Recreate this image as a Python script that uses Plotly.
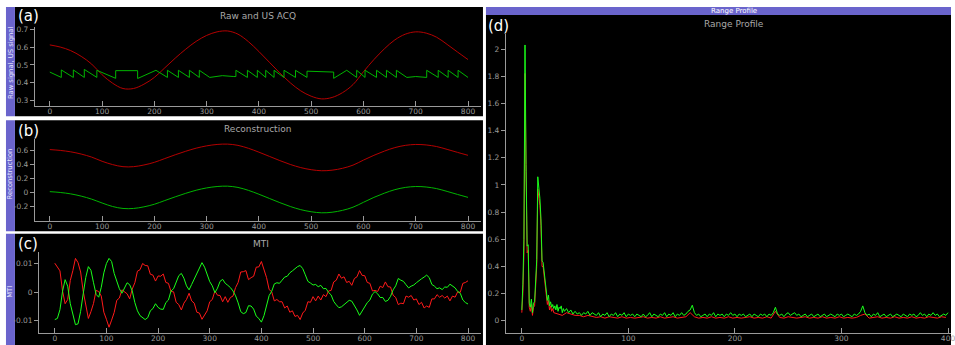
import plotly.graph_objects as go

# ---------------- DATA ----------------
# Panel (a)/(b): raw / reconstruction red signal (x every 20)
wave_x = list(range(0, 801, 20))
raw_red = [0.612, 0.600, 0.580, 0.548, 0.505, 0.445, 0.398, 0.368, 0.368, 0.392,
           0.430, 0.484, 0.538, 0.588, 0.632, 0.665, 0.685, 0.690, 0.672, 0.630,
           0.575, 0.515, 0.455, 0.400, 0.355, 0.325, 0.310, 0.318, 0.345, 0.390,
           0.462, 0.530, 0.590, 0.640, 0.672, 0.685, 0.678, 0.655, 0.615, 0.572,
           0.530]
recon_green = [0.012, 0.000, -0.020, -0.052, -0.095, -0.150, -0.200, -0.228, -0.228, -0.205,
               -0.168, -0.115, -0.062, -0.012, 0.032, 0.065, 0.085, 0.090, 0.072, 0.030,
               -0.025, -0.085, -0.145, -0.200, -0.245, -0.275, -0.290, -0.282, -0.255, -0.210,
               -0.140, -0.070, -0.010, 0.040, 0.072, 0.085, 0.078, 0.055, 0.015, -0.028,
               -0.070]

# Panel (a): US (undersampled) green sawtooth
us_x = [0, 22, 22, 45, 45, 66, 66, 90, 90, 126, 126, 168, 168, 203,
        225, 225, 246, 246, 267, 267, 286, 286, 306, 330, 352, 356, 356,
        378, 378, 397, 397, 413, 413, 429, 429, 448, 448, 470, 470, 492, 492,
        543, 543, 568, 587, 587, 603, 603, 625, 625, 644, 644, 663, 663, 683,
        700, 721, 721, 743, 743, 762, 762, 781, 781, 800]
us_y = [0.460, 0.430, 0.472, 0.430, 0.472, 0.430, 0.475, 0.430, 0.470, 0.425, 0.468, 0.468, 0.424, 0.470,
        0.430, 0.470, 0.430, 0.470, 0.430, 0.470, 0.430, 0.470, 0.430, 0.440, 0.435, 0.435, 0.470,
        0.430, 0.470, 0.430, 0.470, 0.430, 0.470, 0.430, 0.470, 0.430, 0.470, 0.430, 0.470, 0.430, 0.465,
        0.460, 0.425, 0.470, 0.430, 0.470, 0.430, 0.470, 0.430, 0.470, 0.430, 0.470, 0.430, 0.470, 0.430,
        0.435, 0.430, 0.470, 0.430, 0.470, 0.430, 0.470, 0.430, 0.470, 0.430]

# Panel (c): MTI (x every 5)
mti_x = list(range(0, 801, 5))
mti_red = [0.0102, 0.0089, 0.0075, 0.0004, -0.0041, -0.0026, 0.0041, 0.0076, 0.0119, 0.0104,
           0.0071, 0.0003, -0.0046, -0.0093, -0.0069, -0.0040, 0.0006, 0.0002, -0.0014, -0.0071,
           -0.0096, -0.0124, -0.0099, -0.0072, -0.0029, -0.0021, 0.0008, 0.0001, -0.0006, -0.0024,
           0.0011, 0.0033, 0.0074, 0.0079, 0.0101, 0.0094, 0.0093, 0.0063, 0.0060, 0.0039,
           0.0057, 0.0056, 0.0064, 0.0034, 0.0031, 0.0002, 0.0001, -0.0036, -0.0044, -0.0063,
           -0.0039, -0.0026, -0.0004, -0.0031, -0.0039, -0.0071, -0.0074, -0.0096, -0.0079, -0.0066,
           -0.0034, -0.0026, 0.0004, -0.0011, -0.0012, -0.0034, -0.0016, -0.0036, -0.0019, -0.0014,
           0.0016, 0.0034, 0.0071, 0.0072, 0.0076, 0.0044, 0.0051, 0.0056, 0.0088, 0.0089,
           0.0108, 0.0079, 0.0051, 0.0009, 0.0001, -0.0031, -0.0026, -0.0034, -0.0034, -0.0056,
           -0.0049, -0.0071, -0.0066, -0.0086, -0.0082, -0.0097, -0.0074, -0.0064, -0.0034, -0.0036,
           -0.0016, -0.0031, -0.0014, -0.0028, -0.0009, -0.0016, 0.0004, 0.0006, 0.0036, 0.0042,
           0.0064, 0.0049, 0.0054, 0.0034, 0.0038, 0.0024, 0.0048, 0.0054, 0.0076, 0.0059,
           0.0058, 0.0034, 0.0031, 0.0004, 0.0006, 0.0002, 0.0021, 0.0016, 0.0036, 0.0019,
           0.0018, -0.0011, -0.0019, -0.0044, -0.0039, -0.0041, -0.0014, -0.0018, -0.0012, -0.0028,
           -0.0024, -0.0044, -0.0036, -0.0056, -0.0049, -0.0054, -0.0024, -0.0024, -0.0009, -0.0018,
           -0.0012, -0.0021, -0.0014, -0.0031, -0.0014, -0.0018, 0.0001, -0.0001, 0.0031, 0.0034,
           0.0040]
mti_green = [-0.0097, -0.0093, -0.0062, 0.0003, 0.0044, 0.0021, -0.0041, -0.0083, -0.0115, -0.0112,
             -0.0068, -0.0006, 0.0052, 0.0090, 0.0077, 0.0033, -0.0008, -0.0018, 0.0017, 0.0068,
             0.0101, 0.0119, 0.0108, 0.0066, 0.0036, 0.0012, -0.0004, 0.0014, 0.0033, 0.0026,
             0.0004, -0.0037, -0.0066, -0.0083, -0.0091, -0.0097, -0.0090, -0.0066, -0.0058, -0.0041,
             -0.0054, -0.0060, -0.0061, -0.0037, -0.0028, 0.0004, 0.0012, 0.0038, 0.0058, 0.0066,
             0.0049, 0.0022, 0.0008, 0.0027, 0.0046, 0.0069, 0.0084, 0.0104, 0.0088, 0.0064,
             0.0037, 0.0022, -0.0002, 0.0014, 0.0038, 0.0045, 0.0031, 0.0024, 0.0016, 0.0004,
             -0.0013, -0.0038, -0.0069, -0.0076, -0.0072, -0.0048, -0.0049, -0.0060, -0.0085, -0.0093,
             -0.0106, -0.0083, -0.0047, -0.0012, 0.0003, 0.0029, 0.0033, 0.0031, 0.0042, 0.0053,
             0.0056, 0.0068, 0.0075, 0.0084, 0.0090, 0.0094, 0.0083, 0.0061, 0.0038, 0.0032,
             0.0025, 0.0027, 0.0019, 0.0024, 0.0012, 0.0013, -0.0001, -0.0010, -0.0033, -0.0045,
             -0.0055, -0.0052, -0.0045, -0.0037, -0.0029, -0.0032, -0.0046, -0.0063, -0.0082, -0.0068,
             -0.0055, -0.0037, -0.0028, -0.0007, 0.0002, -0.0006, -0.0019, -0.0019, -0.0033, -0.0029,
             -0.0015, 0.0008, 0.0022, 0.0048, 0.0042, 0.0038, 0.0026, 0.0015, 0.0021, 0.0025,
             0.0033, 0.0041, 0.0047, 0.0053, 0.0060, 0.0051, 0.0027, 0.0021, 0.0012, 0.0015,
             0.0009, 0.0018, 0.0017, 0.0028, 0.0023, 0.0015, 0.0002, -0.0004, -0.0028, -0.0037,
             -0.0042]

# Panel (d): range profile
rp_green_x = list(range(0, 41)) + list(range(42, 401, 2))
rp_green = [0.08, 0.27, 0.60, 2.03, 1.15, 0.55, 0.56, 0.13, 0.10, 0.16,
            0.06, 0.13, 0.14, 0.32, 0.45, 1.06, 0.98, 0.90, 0.75, 0.44,
            0.43, 0.35, 0.28, 0.20, 0.15, 0.19, 0.11, 0.14, 0.10, 0.12,
            0.09, 0.11, 0.08, 0.12, 0.07, 0.10, 0.09, 0.11, 0.06, 0.09,
            0.07,
            0.09, 0.06, 0.08, 0.05, 0.07, 0.05, 0.06, 0.04, 0.06, 0.05,
            0.07, 0.04, 0.06, 0.05, 0.04, 0.06, 0.03, 0.05, 0.04, 0.06,
            0.03, 0.05, 0.04, 0.06, 0.03, 0.05, 0.04, 0.06, 0.03, 0.05,
            0.04, 0.05, 0.03, 0.05, 0.04, 0.03, 0.05, 0.03, 0.04, 0.06,
            0.03, 0.05, 0.04, 0.03, 0.05, 0.04, 0.06, 0.03, 0.05, 0.04,
            0.06, 0.03, 0.05, 0.04, 0.06, 0.04, 0.05, 0.07, 0.08, 0.115,
            0.06, 0.04, 0.05, 0.03, 0.04, 0.05, 0.03, 0.05, 0.04, 0.06,
            0.03, 0.05, 0.04, 0.05, 0.03, 0.05, 0.04, 0.06, 0.04, 0.05,
            0.03, 0.05, 0.04, 0.05, 0.03, 0.04, 0.05, 0.03, 0.05, 0.04,
            0.03, 0.05, 0.04, 0.05, 0.03, 0.05, 0.04, 0.06, 0.10, 0.05,
            0.04, 0.05, 0.03, 0.05, 0.06, 0.04, 0.05, 0.06, 0.04, 0.05,
            0.03, 0.04, 0.05, 0.03, 0.04, 0.05, 0.03, 0.04, 0.05, 0.03,
            0.04, 0.05, 0.03, 0.04, 0.05, 0.04, 0.03, 0.05, 0.04, 0.05,
            0.03, 0.04, 0.05, 0.04, 0.03, 0.05, 0.04, 0.05, 0.07, 0.11,
            0.06, 0.04, 0.05, 0.03, 0.05, 0.04, 0.06, 0.03, 0.04, 0.05,
            0.03, 0.04, 0.05, 0.03, 0.04, 0.05, 0.04, 0.03, 0.05, 0.04,
            0.03, 0.05, 0.04, 0.05, 0.03, 0.04, 0.06, 0.04, 0.05, 0.03,
            0.05, 0.04, 0.06, 0.04, 0.05, 0.03, 0.04, 0.05, 0.04, 0.06]
rp_red_x = list(range(0, 31)) + list(range(34, 399, 4))
rp_red = [0.06, 0.20, 0.50, 1.82, 1.10, 0.50, 0.52, 0.10, 0.07, 0.12,
          0.04, 0.10, 0.11, 0.28, 0.40, 0.97, 0.92, 0.85, 0.70, 0.40,
          0.40, 0.32, 0.25, 0.17, 0.12, 0.15, 0.08, 0.11, 0.07, 0.09,
          0.06,
          0.05, 0.04, 0.06, 0.05, 0.04, 0.04, 0.03, 0.04, 0.03, 0.025,
          0.03, 0.02, 0.03, 0.025, 0.02, 0.03, 0.02, 0.025, 0.02, 0.025,
          0.03, 0.02, 0.025, 0.02, 0.03, 0.02, 0.025, 0.03, 0.02, 0.025,
          0.03, 0.06, 0.03, 0.02, 0.025, 0.02, 0.03, 0.02, 0.025, 0.02,
          0.03, 0.02, 0.025, 0.02, 0.025, 0.03, 0.02, 0.025, 0.02, 0.03,
          0.02, 0.07, 0.025, 0.02, 0.03, 0.025, 0.02, 0.025, 0.03, 0.02,
          0.025, 0.02, 0.03, 0.02, 0.025, 0.02, 0.03, 0.02, 0.025, 0.02,
          0.025, 0.04, 0.05, 0.02, 0.025, 0.03, 0.02, 0.025, 0.02, 0.03,
          0.02, 0.025, 0.02, 0.03, 0.02, 0.025, 0.02, 0.03, 0.025, 0.02,
          0.03, 0.025]

# Tick labels
ticks_x_left = [0, 100, 200, 300, 400, 500, 600, 700, 800]
ticks_x_right = [0, 100, 200, 300, 400]
ticks_a_vals = [0.3, 0.4, 0.5, 0.6, 0.7]
ticks_a_text = ["0.3", "0.4", "0.5", "0.6", "0.7"]
ticks_b_vals = [-0.2, 0, 0.2, 0.4, 0.6]
ticks_b_text = ["-0.2", "0", "0.2", "0.4", "0.6"]
ticks_c_vals = [-0.01, 0, 0.01]
ticks_c_text = ["-0.01", "0", "0.01"]
ticks_d_vals = [0, 0.2, 0.4, 0.6, 0.8, 1.0, 1.2, 1.4, 1.6, 1.8, 2.0]
ticks_d_text = ["0", "0.2", "0.4", "0.6", "0.8", "1", "1.2", "1.4", "1.6", "1.8", "2"]

# ---------------- LAYOUT HELPERS ----------------
W, H = 955, 345
def px(x):
    return x / W
def py(y):
    return 1 - y / H

DARK_RED = "#b40000"
DARK_GREEN = "#00b400"
BRIGHT_RED = "#ff1a1a"
BRIGHT_GREEN = "#1aff1a"
PURPLE = "#6a64cc"
AXC = "#9a9a9a"
FONT = "DejaVu Sans"

fig = go.Figure()
fig.add_trace(go.Scatter(x=wave_x, y=raw_red, mode="lines", line=dict(color=DARK_RED, width=1, shape="spline"), xaxis="x", yaxis="y"))
fig.add_trace(go.Scatter(x=us_x, y=us_y, mode="lines", line=dict(color=DARK_GREEN, width=1), xaxis="x", yaxis="y"))
fig.add_trace(go.Scatter(x=wave_x, y=raw_red, mode="lines", line=dict(color=DARK_RED, width=1, shape="spline"), xaxis="x2", yaxis="y2"))
fig.add_trace(go.Scatter(x=wave_x, y=recon_green, mode="lines", line=dict(color=DARK_GREEN, width=1, shape="spline"), xaxis="x2", yaxis="y2"))
fig.add_trace(go.Scatter(x=mti_x, y=mti_red, mode="lines", line=dict(color=BRIGHT_RED, width=1), xaxis="x3", yaxis="y3"))
fig.add_trace(go.Scatter(x=mti_x, y=mti_green, mode="lines", line=dict(color=BRIGHT_GREEN, width=1), xaxis="x3", yaxis="y3"))
fig.add_trace(go.Scatter(x=rp_red_x, y=rp_red, mode="lines", line=dict(color=BRIGHT_RED, width=1), xaxis="x4", yaxis="y4"))
fig.add_trace(go.Scatter(x=rp_green_x, y=rp_green, mode="lines", line=dict(color=BRIGHT_GREEN, width=1), xaxis="x4", yaxis="y4"))

def axis(is_x=False, **kw):
    base = dict(showline=True, linecolor=AXC, linewidth=1, ticks="outside", ticklen=4,
                tickcolor=AXC, tickwidth=1, showgrid=False, zeroline=False,
                tickfont=dict(family=FONT, size=7.5, color=AXC), fixedrange=True,
                ticklabeloverflow="allow")
    if is_x:
        base.update(ticks="inside", ticklen=5, ticklabelstandoff=-2)
    base.update(kw)
    return base

shapes = []
def rect(x0, y0, x1, y1, color):
    shapes.append(dict(type="rect", xref="paper", yref="paper", x0=px(x0), x1=px(x1),
                       y0=py(y1), y1=py(y0), fillcolor=color, line=dict(width=0), layer="below"))

# left panels
for (t, b) in [(5, 115), (119, 230.5), (233, 345)]:
    rect(15, t, 485, b, "black")
    rect(6, t, 15, b, PURPLE)
# right panel
rect(488, 13, 955, 345, "black")
rect(488, 5, 955, 13, PURPLE)

annotations = []
def text(x, y, s, size, color, angle=0, xanchor="center"):
    annotations.append(dict(x=px(x), y=py(y), xref="paper", yref="paper", text=s, showarrow=False,
                            font=dict(family=FONT, size=size, color=color), textangle=angle,
                            xanchor=xanchor, yanchor="middle"))

text(259, 14, "Raw and US ACQ", 9, "#a8a8a8")
text(259, 128, "Reconstruction", 9, "#a8a8a8")
text(262, 243, "MTI", 9, "#a8a8a8")
text(737, 22, "Range Profile", 9, "#a8a8a8")
text(737, 9, "Range Profile", 7, "#ffffff")
text(16, 14, "(a)", 15, "#ffffff", xanchor="left")
text(16, 130, "(b)", 15, "#ffffff", xanchor="left")
text(16, 243, "(c)", 15, "#ffffff", xanchor="left")
text(488, 24, "(d)", 15, "#ffffff", xanchor="left")
text(10.5, 61, "Raw signal, US signal", 6.8, "#e8e8ff", angle=-90)
text(10.5, 173, "Reconstruction", 6.8, "#e8e8ff", angle=-90)
text(10.5, 291, "MTI", 6.8, "#e8e8ff", angle=-90)

fig.update_layout(
    width=W, height=H, margin=dict(l=0, r=0, t=0, b=0),
    paper_bgcolor="#ffffff", plot_bgcolor="black", showlegend=False,
    shapes=shapes, annotations=annotations,
    xaxis=axis(True, domain=[px(35), px(483)], anchor="y", range=[-28.6, 824.8], tickvals=ticks_x_left),
    yaxis=axis(domain=[py(105), py(25)], anchor="x", range=[0.268, 0.713], tickvals=ticks_a_vals, ticktext=ticks_a_text),
    xaxis2=axis(True, domain=[px(35), px(483)], anchor="y2", range=[-28.6, 824.8], tickvals=ticks_x_left),
    yaxis2=axis(domain=[py(220), py(138)], anchor="x2", range=[-0.403, 0.760], tickvals=ticks_b_vals, ticktext=ticks_b_text),
    xaxis3=axis(True, domain=[px(39.3), px(483)], anchor="y3", range=[-30.3, 825.1], tickvals=ticks_x_left),
    yaxis3=axis(domain=[py(333), py(251)], anchor="x3", range=[-0.01446, 0.01432], tickvals=ticks_c_vals, ticktext=ticks_c_text),
    xaxis4=axis(True, domain=[px(508), px(955)], anchor="y4", range=[-14.95, 402.8], tickvals=ticks_x_right),
    yaxis4=axis(domain=[py(333), py(32)], anchor="x4", range=[-0.09, 2.112], tickvals=ticks_d_vals, ticktext=ticks_d_text),
)

fig.write_html("out.html", config={"displayModeBar": False},
               post_script="document.body.style.margin='0';document.body.style.overflow='hidden';")
